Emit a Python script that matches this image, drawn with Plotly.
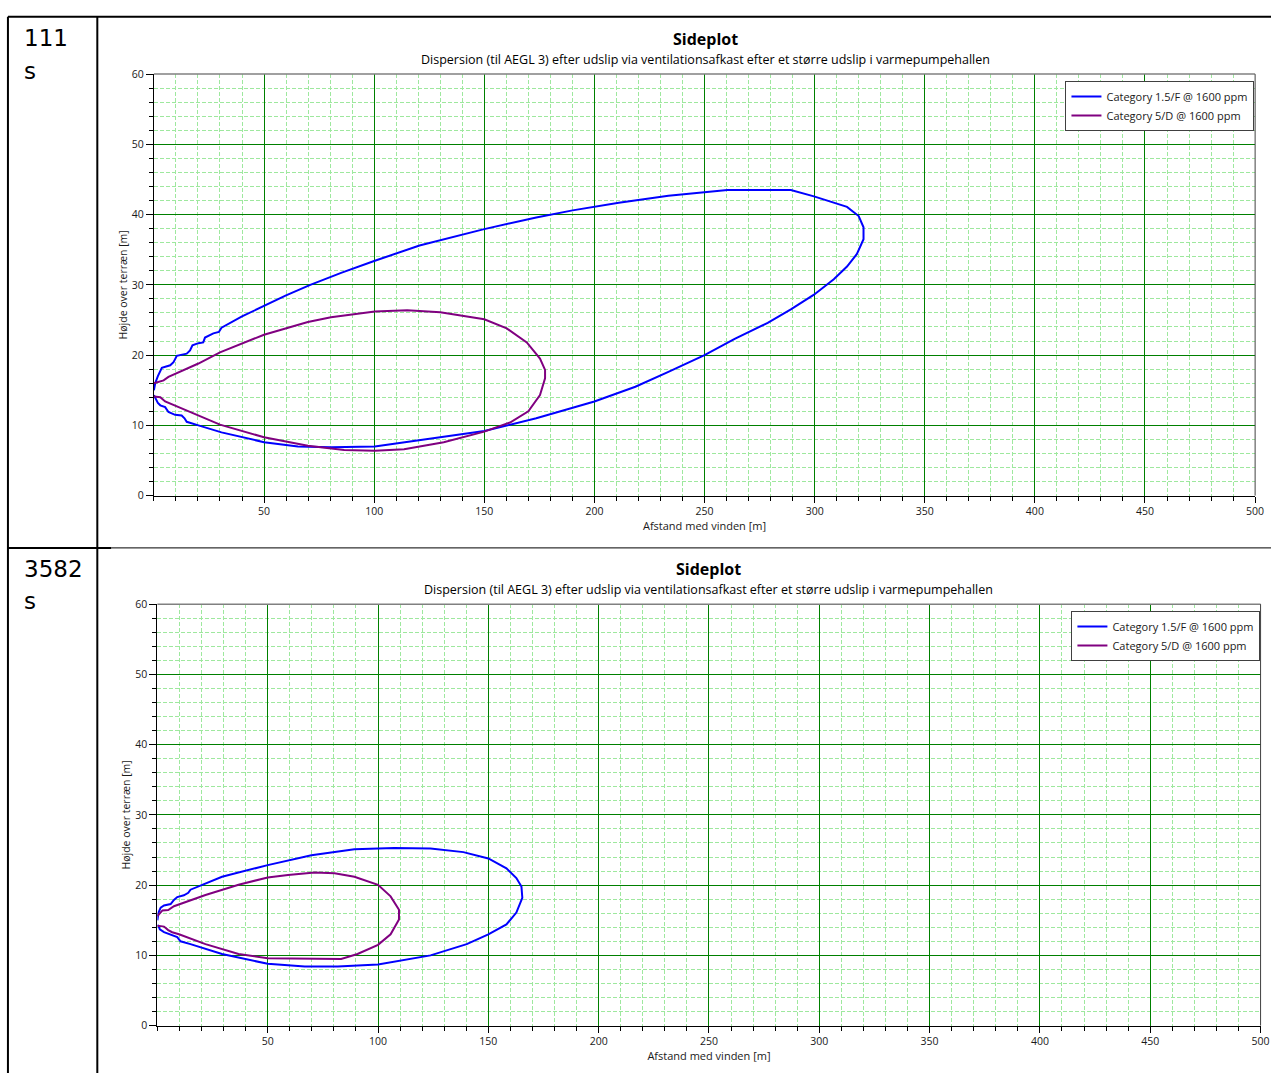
import plotly.graph_objects as go

# ---------------- data ----------------
cell_labels = ["111", "3582"]
cell_unit = "s"
chart_title = "Sideplot"
chart_subtitle = "Dispersion (til AEGL 3) efter udslip via ventilationsafkast efter et større udslip i varmepumpehallen"
x_title = "Afstand med vinden [m]"
y_title = "Højde over terræn [m]"
series_names = ["Category 1.5/F @ 1600 ppm", "Category 5/D @ 1600 ppm"]

x_tickvals = [50, 100, 150, 200, 250, 300, 350, 400, 450, 500]
y_tickvals = [0, 10, 20, 30, 40, 50, 60]

# chart 1 (111 s)
blue1_x = [0, 0.6, 1.8, 3.6, 7.4, 8.9, 10.4, 14.9, 16.4, 17.5, 20.2, 22.4, 23.2, 27.0, 29.5, 30.7,
           40, 50, 60, 71, 85, 100, 120.6, 149.5, 173.6, 190.1, 211.1, 233.6, 250, 260.4, 289.2,
           299.7, 314.7, 320, 322.2, 322.2, 319.2, 314.7, 308.7, 299.7, 289.2, 278.7, 263.7, 250,
           233.6, 218.6, 200, 173.6, 150, 134.6, 119.6, 100.3, 80.4, 65.4, 50, 30.7, 20.2, 14.9,
           13.9, 12.6, 9.6, 6.6, 5.1, 2.9, 1.8, 0.6, 0]
blue1_y = [15.0, 16.0, 17.0, 18.2, 18.55, 19.0, 19.9, 20.2, 20.65, 21.4, 21.7, 21.8, 22.5, 23.1, 23.3, 23.9,
           25.5, 27.0, 28.5, 30.0, 31.7, 33.4, 35.6, 37.9, 39.6, 40.6, 41.7, 42.7, 43.2, 43.5, 43.5,
           42.6, 41.1, 39.8, 38.2, 36.5, 34.4, 32.6, 30.8, 28.6, 26.5, 24.6, 22.3, 20.0,
           17.6, 15.5, 13.4, 11.0, 9.2, 8.5, 7.8, 7.0, 6.87, 7.0, 7.6, 9.0, 10.0, 10.5,
           11.0, 11.4, 11.5, 11.9, 12.6, 12.85, 13.2, 14.1, 14.3]
purple1_x = [0, 4.4, 6.6, 20.2, 30, 50, 69.9, 80.4, 100.3, 115, 130, 150, 160.2, 169.3, 175.3, 177.6,
             177.6, 175.3, 170, 161.7, 150, 131.6, 113.6, 100.3, 86.4, 69.9, 50, 30, 14.2, 5.1, 2.9, 0]
purple1_y = [16.0, 16.4, 16.9, 18.8, 20.4, 22.9, 24.7, 25.4, 26.2, 26.4, 26.1, 25.1, 23.8, 21.8, 19.5, 17.9,
             16.7, 14.3, 12.0, 10.4, 9.1, 7.6, 6.6, 6.4, 6.5, 7.1, 8.3, 10.1, 12.2, 13.4, 14.0, 14.1]

# chart 2 (3582 s)
blue2_x = [0, 0.5, 1.5, 3.0, 6.0, 7.5, 9.0, 12.0, 14, 15, 29.3, 50, 69.8, 89.3, 107.3, 123.8, 138.7,
           150, 158.2, 162.7, 165, 165.4, 162.7, 158.2, 150, 140.2, 123.8, 100, 81.7, 66.8, 50, 29.3,
           15, 10.5, 9, 6.7, 3.0, 1.1, 0.5, 0]
blue2_y = [15.0, 16.1, 16.8, 17.1, 17.3, 17.9, 18.3, 18.55, 18.9, 19.35, 21.2, 22.85, 24.25, 25.1, 25.3, 25.2, 24.7,
           23.8, 22.4, 21.0, 19.8, 18.2, 16.1, 14.4, 13.0, 11.6, 10.0, 8.7, 8.4, 8.4, 8.8, 10.2,
           11.6, 12.0, 12.6, 12.9, 13.3, 13.7, 14.2, 14.3]
purple2_x = [0, 0.5, 2.3, 4.9, 7.5, 21.8, 36.8, 50, 59.2, 71.3, 80.3, 89.3, 100, 105.7, 109.5, 109.5,
             105.7, 100, 90.7, 83.3, 66.8, 50, 36.8, 21.8, 9.8, 6.7, 4.9, 3.0, 0.8, 0]
purple2_y = [15.6, 15.8, 16.4, 16.45, 17.0, 18.6, 20.05, 21.1, 21.45, 21.8, 21.7, 21.2, 20.05, 18.4, 16.5, 15.1,
             13.0, 11.5, 10.2, 9.5, 9.5, 9.6, 10.2, 11.6, 13.0, 13.3, 13.6, 14.1, 14.2, 14.2]

# ---------------- layout helpers ----------------
W, H = 1280, 1080
def px(x):
    return x / W
def py(y):
    return 1 - y / H

FONT = "Open Sans"
TXT = "#1a1a1a"
BLUE = "#0000FF"
PURPLE = "#800080"

fig = go.Figure()
fig.add_trace(go.Scatter(x=blue1_x, y=blue1_y, mode="lines", name=series_names[0],
                         line=dict(color=BLUE, width=2), xaxis="x", yaxis="y", legend="legend"))
fig.add_trace(go.Scatter(x=purple1_x, y=purple1_y, mode="lines", name=series_names[1],
                         line=dict(color=PURPLE, width=2), xaxis="x", yaxis="y", legend="legend"))
fig.add_trace(go.Scatter(x=blue2_x, y=blue2_y, mode="lines", name=series_names[0],
                         line=dict(color=BLUE, width=2), xaxis="x2", yaxis="y2", legend="legend2"))
fig.add_trace(go.Scatter(x=purple2_x, y=purple2_y, mode="lines", name=series_names[1],
                         line=dict(color=PURPLE, width=2), xaxis="x2", yaxis="y2", legend="legend2"))

def xaxis_cfg(domain, anchor):
    return dict(domain=domain, anchor=anchor, range=[0, 500], tickvals=x_tickvals,
                ticks="outside", ticklen=6, tickcolor="black", showline=True, linecolor="black",
                linewidth=1, showgrid=True, gridcolor="#008000", gridwidth=1, zeroline=False,
                tickfont=dict(family=FONT, size=10.5, color=TXT),
                title=dict(text=x_title, font=dict(family=FONT, size=11, color=TXT), standoff=2),
                minor=dict(dtick=10, tick0=0, ticks="outside", ticklen=4, tickcolor="black",
                           showgrid=True, gridcolor="#9ee89e", griddash="4px,2px", gridwidth=1),
                fixedrange=True)

def yaxis_cfg(domain, anchor):
    return dict(domain=domain, anchor=anchor, range=[0, 60], tickvals=y_tickvals,
                ticks="outside", ticklen=7, tickcolor="black", showline=True, linecolor="black",
                linewidth=1, showgrid=True, gridcolor="#008000", gridwidth=1, zeroline=False,
                tickfont=dict(family=FONT, size=10.5, color=TXT),
                title=dict(text=y_title, font=dict(family=FONT, size=10.5, color=TXT), standoff=2),
                minor=dict(dtick=2, tick0=0, ticks="outside", ticklen=4, tickcolor="black",
                           showgrid=True, gridcolor="#9ee89e", griddash="4px,2px", gridwidth=1),
                fixedrange=True)

legend_style = dict(bgcolor="white", bordercolor="#404040", borderwidth=1,
                    font=dict(family=FONT, size=11, color=TXT), itemwidth=30,
                    xanchor="left", yanchor="top", tracegroupgap=0)

fig.update_layout(
    width=W, height=H, margin=dict(l=0, r=0, t=0, b=0),
    paper_bgcolor="white", plot_bgcolor="white", showlegend=True,
    xaxis=xaxis_cfg([px(155), px(1264)], "y"),
    yaxis=yaxis_cfg([py(495), py(68)], "x"),
    xaxis2=xaxis_cfg([px(158.5), px(1269.5)], "y2"),
    yaxis2=yaxis_cfg([py(1032), py(605)], "x2"),
    legend=dict(x=px(1073), y=py(75), **legend_style),
    legend2=dict(x=px(1079), y=py(612), **legend_style),
)

shapes = []
def pline(x0, y0, x1, y1, w=2, c="black"):
    shapes.append(dict(type="line", xref="paper", yref="paper", x0=px(x0), y0=py(y0),
                       x1=px(x1), y1=py(y1), line=dict(color=c, width=w)))
# table borders
pline(8, 10, 1280, 10)
pline(8, 10, 8, 1080)
pline(98, 10, 98, 1080)
pline(8, 548, 112, 548)
pline(112, 548, 1280, 548, w=1)
# plot frame top / right
for xa, ya in (("x", "y"), ("x2", "y2")):
    shapes.append(dict(type="line", xref=f"{xa} domain", yref=f"{ya} domain", x0=0, x1=1, y0=1, y1=1,
                       line=dict(color="#808080", width=1.5)))
    shapes.append(dict(type="line", xref=f"{xa} domain", yref=f"{ya} domain", x0=1, x1=1, y0=0, y1=1,
                       line=dict(color="#404040", width=1)))
fig.update_layout(shapes=shapes)

ann = []
def ptext(x, y, text, size, family=FONT, xanchor="center", bold=False):
    ann.append(dict(x=px(x), y=py(y), xref="paper", yref="paper", text=f"<b>{text}</b>" if bold else text,
                    showarrow=False, xanchor=xanchor, yanchor="middle",
                    font=dict(family=family, size=size, color="black")))
# cell labels
ptext(22, 31, cell_labels[0], 23, family="DejaVu Sans", xanchor="left")
ptext(22, 65, cell_unit, 23, family="DejaVu Sans", xanchor="left")
ptext(22, 569, cell_labels[1], 23, family="DejaVu Sans", xanchor="left")
ptext(22, 602, cell_unit, 23, family="DejaVu Sans", xanchor="left")
# chart titles
ptext(710, 32, chart_title, 16, bold=True)
ptext(710, 53, chart_subtitle, 12.5)
ptext(714, 569, chart_title, 16, bold=True)
ptext(714, 590, chart_subtitle, 12.5)
fig.update_layout(annotations=ann)

fig.write_html("out.html", config={"displayModeBar": False},
               post_script="document.documentElement.style.margin='0';document.body.style.margin='0';"
                           "document.body.style.padding='0';document.body.style.overflow='hidden';")
